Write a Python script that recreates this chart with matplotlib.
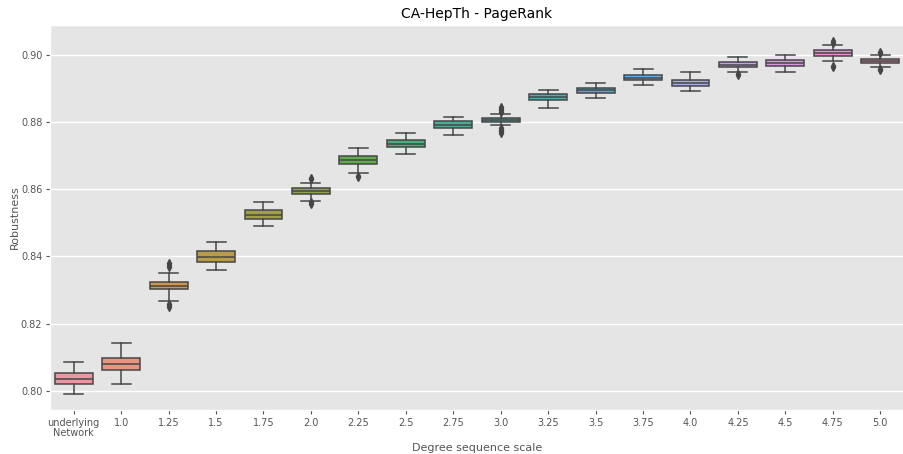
import colorsys
import matplotlib
matplotlib.use("Agg")
import matplotlib.pyplot as plt
import seaborn as sns

plt.style.use("ggplot")

# Categories on the x axis
scales = ["underlying\nNetwork", "1.0", "1.25", "1.5", "1.75", "2.0", "2.25", "2.5",
          "2.75", "3.0", "3.25", "3.5", "3.75", "4.0", "4.25", "4.5", "4.75", "5.0"]

# Box statistics of robustness for each degree sequence scale
medians = [0.8035, 0.8080, 0.8313, 0.8399, 0.8524, 0.8595, 0.8687, 0.8736, 0.8791,
           0.8807, 0.8874, 0.8894, 0.8932, 0.8916, 0.8971, 0.8976, 0.9006, 0.8983]
q1 = [0.8020, 0.8063, 0.8302, 0.8384, 0.8512, 0.8587, 0.8676, 0.8727, 0.8782,
      0.8801, 0.8865, 0.8886, 0.8924, 0.8907, 0.8963, 0.8968, 0.8998, 0.8976]
q3 = [0.8052, 0.8099, 0.8324, 0.8415, 0.8537, 0.8603, 0.8699, 0.8746, 0.8802,
      0.8813, 0.8883, 0.8902, 0.8940, 0.8924, 0.8978, 0.8984, 0.9014, 0.8989]
whisker_low = [0.7990, 0.8020, 0.8268, 0.8360, 0.8492, 0.8566, 0.8647, 0.8706, 0.8762,
               0.8790, 0.8842, 0.8873, 0.8911, 0.8892, 0.8949, 0.8949, 0.8983, 0.8964]
whisker_high = [0.8085, 0.8141, 0.8350, 0.8444, 0.8563, 0.8620, 0.8724, 0.8766, 0.8816,
                0.8825, 0.8896, 0.8915, 0.8958, 0.8949, 0.8995, 0.9000, 0.9028, 0.9000]
outliers = [[], [], [0.8381, 0.8374, 0.8370, 0.8259, 0.8254, 0.8250], [], [],
            [0.8634, 0.8630, 0.8562, 0.8557],
            [0.8640, 0.8637], [], [],
            [0.8845, 0.8840, 0.8835, 0.8831, 0.8782, 0.8777, 0.8772, 0.8768],
            [], [], [], [], [0.8944, 0.8941], [],
            [0.9040, 0.9036, 0.8967, 0.8964], [0.9009, 0.9005, 0.8958, 0.8955]]

stats = [
    {"med": m, "q1": a, "q3": b, "whislo": lo, "whishi": hi, "fliers": f}
    for m, a, b, lo, hi, f in zip(medians, q1, q3, whisker_low, whisker_high, outliers)
]

# seaborn-style colours: husl palette, desaturated, with a shared gray for lines
base = sns.husl_palette(len(scales), l=.7)
lum = min(colorsys.rgb_to_hls(*c)[1] for c in base) * .6
gray = (lum, lum, lum)
colors = [sns.desaturate(c, .75) for c in base]

fig = plt.figure(figsize=(9.04, 4.54), dpi=100)
ax = fig.add_axes([0.0553, 0.097, 0.9447, 0.848])

lw = 1.1
bp = ax.bxp(stats, positions=range(len(scales)), widths=0.8, patch_artist=True,
            boxprops=dict(edgecolor=gray, linewidth=lw),
            medianprops=dict(color=gray, linewidth=lw),
            whiskerprops=dict(color=gray, linewidth=lw),
            capprops=dict(color=gray, linewidth=lw),
            flierprops=dict(marker="d", markerfacecolor=gray, markeredgecolor=gray,
                            markersize=4, linestyle="none"))
for patch, c in zip(bp["boxes"], colors):
    patch.set_facecolor(c)

ax.set_xlim(-0.5, len(scales) - 0.5)
ax.set_ylim(0.7943, 0.9089)
ax.set_yticks([0.80, 0.82, 0.84, 0.86, 0.88, 0.90])
ax.set_yticklabels(["0.80", "0.82", "0.84", "0.86", "0.88", "0.90"])
ax.set_xticks(range(len(scales)))
ax.set_xticklabels(scales, linespacing=1.1)
ax.tick_params(axis="both", labelsize=7, colors="#555555", length=3, pad=2.5)
ax.xaxis.grid(False)
ax.yaxis.grid(True, color="white", linewidth=1)

ax.set_title("CA-HepTh - PageRank", fontsize=10, color="black", pad=5)
ax.set_xlabel("Degree sequence scale", fontsize=8, color="#555555", labelpad=3.5)
ax.set_ylabel("Robustness", fontsize=8, color="#555555", labelpad=1)

fig.savefig("out.png", dpi=100)
